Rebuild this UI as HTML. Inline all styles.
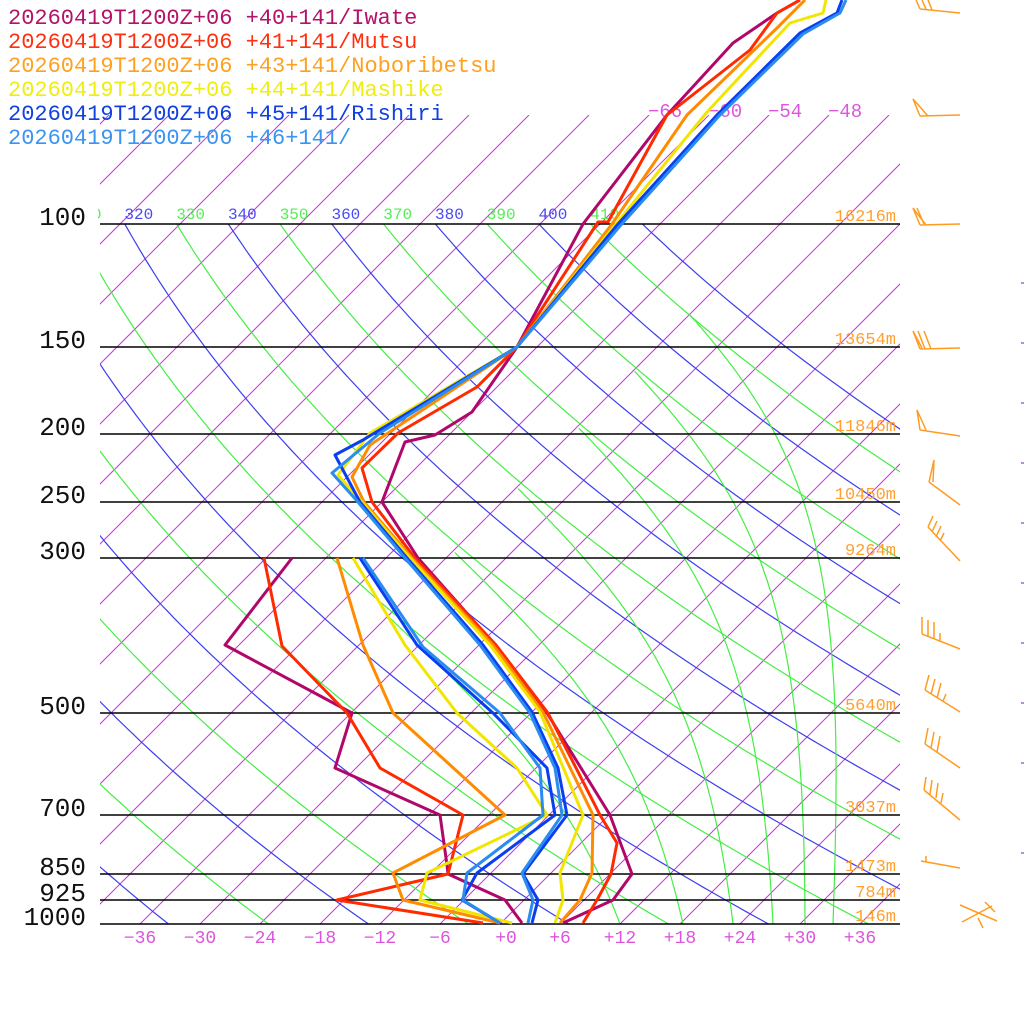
<!DOCTYPE html>
<html><head><meta charset="utf-8"><style>
html,body{margin:0;padding:0;background:#fff;width:1024px;height:1024px;overflow:hidden}
svg{display:block}
text{font-family:"Liberation Mono","DejaVu Sans Mono",monospace}
</style></head><body>
<svg id="s" width="1024" height="1024" viewBox="0 0 1024 1024" xmlns="http://www.w3.org/2000/svg">
<defs>
<clipPath id="ci"><rect x="100" y="115" width="800" height="809"/></clipPath>
<clipPath id="ca"><rect x="100" y="224" width="800" height="700"/></clipPath>
<clipPath id="cl"><rect x="98" y="195" width="520" height="30"/></clipPath>
</defs>
<g id="iso" clip-path="url(#ci)" stroke="#cc33dd" stroke-width="1" fill="none"></g>
<g id="dry" clip-path="url(#ca)" fill="none" stroke-width="1.2"></g>
<g id="moist" clip-path="url(#ca)" fill="none" stroke="#44ee44" stroke-width="1.2"></g>
<g id="plines" stroke="#000" stroke-width="1.5"></g>
<g id="thl" clip-path="url(#cl)" font-size="16" text-anchor="middle"></g>
<g font-size="19" fill="#dd55dd">
<text x="648" y="117">−66</text><text x="708" y="117">−60</text><text x="768" y="117">−54</text><text x="828" y="117">−48</text>
</g>
<g id="blab" font-size="18" fill="#dd55dd" text-anchor="middle"></g>
<g id="plab" font-size="26" fill="#111" text-anchor="end"></g>
<g id="hlab" font-size="17" fill="#ffa030" text-anchor="end"></g>
<g id="snd" fill="none" stroke-width="3" stroke-linejoin="round"></g>
<g id="barbs" stroke="#ff9c20" stroke-width="1.5" fill="none">
<path d="M920 9 L960 13 M920 9 L916 0 M926 9 L922 0 M932 10 L928 0"/>
<path d="M920 116 L960 115 M920 116 L913 99 L928 116"/>
<path d="M920 225 L960 224 M920 225 L913 208 L926 225 M917 208 L924 224"/>
<path d="M920 349 L960 348 M913 331 L920 349 M918 331 L925 349 M924 331 L931 349 M913 331 L922 348"/>
<path d="M920 430 L960 436 M920 430 L917 410 L926 430"/>
<path d="M929 482 L960 505 M929 482 L934 460 L933 482"/>
<path d="M928 527 L960 561 M928 527 L933 516 M932 532 L937 521 M936 537 L941 526 M940 541 L944 533"/>
<path d="M922 634 L960 649 M922 634 L922 617 M928 636 L928 620 M934 639 L934 622 M940 641 L940 633"/>
<path d="M925 690 L960 712 M925 690 L929 675 M931 694 L935 679 M937 698 L941 683 M943 701 L946 694"/>
<path d="M925 744 L960 768 M925 744 L928 728 M931 748 L934 732 M937 752 L940 736"/>
<path d="M924 790 L960 820 M924 790 L926 777 M930 794 L932 780 M936 798 L938 783 M941 803 L943 793"/>
<path d="M921 861 L960 868 M926 862 L926 856"/>
<path d="M960 905 L997 921 M962 922 L992 906 M985 902 L995 912 M978 918 L983 928"/>
</g>
<g font-size="22" id="leg">
<text x="8" y="24" fill="#b3126a">20260419T1200Z+06 +40+141/Iwate</text>
<text x="8" y="48" fill="#ff3010">20260419T1200Z+06 +41+141/Mutsu</text>
<text x="8" y="72" fill="#ffa020">20260419T1200Z+06 +43+141/Noboribetsu</text>
<text x="8" y="96" fill="#eeee10">20260419T1200Z+06 +44+141/Mashike</text>
<text x="8" y="120" fill="#1040e0">20260419T1200Z+06 +45+141/Rishiri</text>
<text x="8" y="144" fill="#3a94f0">20260419T1200Z+06 +46+141/</text>
</g>
<g stroke="#9944cc" stroke-width="1.2">
<path d="M1021 283h3M1021 343h3M1021 403h3M1021 463h3M1021 523h3M1021 583h3M1021 643h3M1021 703h3M1021 763h3M1021 853h3"/>
</g>
</svg>
<script>
(function(){
var NS="http://www.w3.org/2000/svg";
function el(parent,tag,attrs,txt){var e=document.createElementNS(NS,tag);for(var k in attrs)e.setAttribute(k,attrs[k]);if(txt!==undefined)e.textContent=txt;document.getElementById(parent).appendChild(e);return e;}
function Y(p){return 924-304*Math.log(1000/p);}
function X(T,y){return 500+10*T+(924-y);}
for(var T=-150;T<=40;T+=6){
  el("iso","line",{x1:500+10*T,y1:924,x2:500+10*T+809,y2:115});
}
for(var th=200;th<=420;th+=10){
  var d="";
  for(var i=0;i<=120;i++){
    var p=1000*Math.pow(0.1,i/120*1.05);
    var Tc=th*Math.pow(p/1000,0.286)-273.15;
    var y=Y(p),x=X(Tc,y);
    d+=(i?"L":"M")+x.toFixed(1)+" "+y.toFixed(1);
  }
  var blue=((th/10)%2===0);
  el("dry","path",{d:d,stroke:blue?"#3d3df0":"#44ee44"});
  var Tt=th*Math.pow(0.1,0.286)-273.15;
  if(th>=310&&th<=410)el("thl","text",{x:X(Tt,224)+14,y:219,fill:blue?"#4a4af0":"#55ee55"},String(th));
}
var Rd=287.04,cp=1005.7,Lv=2.501e6,eps=0.622;
function es(T){return 611.2*Math.exp(17.67*(T-273.15)/(T-29.65));}
[12,18.3,23.3,27.3,30.5,33.3].forEach(function(t0){
  var T=t0+273.15,lp=Math.log(100000),lend=Math.log(9000),n=400,h=(lend-lp)/n;
  var d="";
  for(var i=0;i<=n;i++){
    var p=Math.exp(lp);
    if(T-273.15<-42)break;
    var y=Y(p/100),x=X(T-273.15,y);
    d+=(i?"L":"M")+x.toFixed(1)+" "+y.toFixed(1);
    var e=es(T),rs=eps*e/(p-e);
    var dT=(Rd*T+Lv*rs)/(cp+Lv*Lv*rs*eps/(Rd*T*T));
    T+=dT*h;lp+=h;
  }
  el("moist","path",{d:d});
});
var lv=[[100,224,"16216m"],[150,347,"13654m"],[200,434,"11846m"],[250,502,"10450m"],[300,558,"9264m"],[500,713,"5640m"],[700,815,"3037m"],[850,874,"1473m"],[925,900,"784m"],[1000,924,"146m"]];
lv.forEach(function(a){
  el("plines","line",{x1:100,y1:a[1],x2:900,y2:a[1]});
  el("plab","text",{x:86,y:a[1]+1},String(a[0]));
  el("hlab","text",{x:896,y:a[1]-3},a[2]);
});
for(var t=-36;t<=36;t+=6){
  var s=t<0?"−"+(-t):"+"+t;
  el("blab","text",{x:500+10*t+(t===0?6:0),y:943},s);
}
var S=[
 ["#b0086a",
  "M522 923 L505 900 L448 874 L447 865 L440 815 L335 768 L352 713 L225 645 L292 558",
  "M563 923 L613 900 L632 874 L610 815 L547 713 L495 645 L418 558 L382 502 L405 442 L435 435 L472 412 L517 347 L583 224 L667 115 L733 43 L777 13 L800 0"],
 ["#ff2a00",
  "M483 923 L337 900 L448 874 L463 815 L380 768 L347 713 L282 646 L264 558",
  "M583 923 L597 900 L611 874 L617 843 L600 815 L548 713 L496 645 L415 558 L372 502 L362 468 L398 433 L477 387 L517 347 L598 222 L608 222 L667 115 L750 50 L777 13 L800 0"],
 ["#ff8c00",
  "M500 923 L403 900 L393 873 L505 815 L393 713 L363 645 L337 558",
  "M560 923 L580 900 L592 873 L593 815 L543 712 L493 645 L412 558 L364 502 L352 477 L370 445 L517 347 L612 224 L687 115 L777 28 L805 0"],
 ["#f2e600",
  "M512 923 L420 900 L427 873 L547 815 L517 768 L457 713 L405 645 L353 558",
  "M555 923 L563 900 L560 873 L583 815 L540 712 L490 645 L410 558 L362 502 L338 475 L370 433 L517 347 L616 224 L707 112 L790 23 L823 13 L826 0"],
 ["#0a3ff0",
  "M500 923 L462 900 L477 873 L555 815 L547 768 L493 713 L417 645 L360 558",
  "M532 923 L538 900 L523 874 L567 815 L558 768 L532 712 L483 645 L407 558 L360 502 L335 455 L363 440 L517 347 L618 224 L717 115 L800 33 L837 13 L842 0"],
 ["#2a8cf0",
  "M500 923 L463 900 L467 873 L543 815 L540 768 L500 713 L423 647 L363 558",
  "M528 923 L533 900 L522 873 L562 815 L555 768 L530 713 L480 645 L405 558 L358 502 L332 473 L380 433 L517 347 L620 226 L719 116 L803 34 L840 13 L846 0"]
];
S.forEach(function(s){
  el("snd","path",{d:s[1],stroke:s[0]});
  el("snd","path",{d:s[2],stroke:s[0]});
});
})();
</script>
</body></html>
